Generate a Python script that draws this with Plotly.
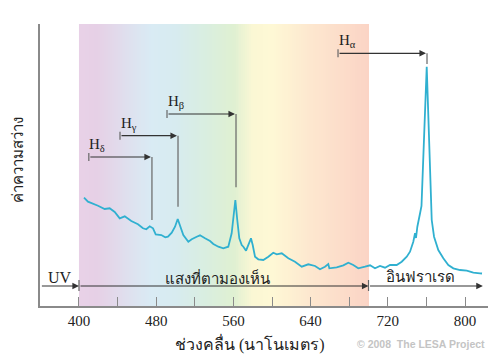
import numpy as np
import plotly.graph_objects as go

# ---------------- data ----------------
wavelength_nm = [405.2, 409.3, 419.7, 426.6, 431.8, 437.0, 442.2, 447.4, 454.2, 461.1,
                 466.3, 469.7, 473.3, 476.7, 479.5, 485.3, 489.4, 492.2, 496.1, 499.5,
                 502.3, 504.7, 508.1, 513.3, 516.8, 522.0, 525.4, 530.6, 535.8, 539.2,
                 544.4, 549.5, 554.7, 558.2, 559.9, 562.0, 564.0, 566.1, 568.6, 570.3,
                 573.1, 575.4, 578.2, 580.0, 582.4, 585.8, 591.0, 596.2, 601.3, 604.9,
                 610.1, 616.9, 623.8, 630.8, 637.6, 644.6, 649.7, 654.9, 658.3, 659.4,
                 667.0, 673.9, 679.1, 684.2, 689.4, 696.4, 701.6, 706.7, 711.9, 717.1,
                 722.3, 729.2, 734.4, 739.6, 743.0, 746.4, 748.2, 749.2, 750.6, 753.4,
                 754.9, 760.3, 763.2, 764.8, 765.5, 767.9, 772.3, 777.5, 782.7, 787.9,
                 794.8, 801.8, 808.6, 815.5, 817.6]
brightness = [108.3, 104.3, 100.3, 97.0, 97.7, 94.0, 87.7, 89.7, 85.0, 81.7,
              77.7, 76.7, 79.7, 77.7, 71.7, 71.0, 68.7, 69.3, 73.3, 79.3,
              87.0, 79.3, 71.0, 64.3, 66.7, 69.3, 70.7, 67.7, 65.0, 62.0,
              59.3, 57.7, 59.3, 72.7, 89.3, 106.0, 86.0, 67.7, 61.0, 59.3,
              55.3, 61.0, 67.7, 61.0, 49.3, 46.7, 46.0, 49.3, 53.3, 51.7,
              52.7, 47.7, 44.3, 39.3, 41.7, 40.0, 36.7, 39.3, 42.0, 37.7,
              38.7, 40.7, 43.3, 41.0, 37.7, 39.3, 40.7, 37.7, 40.0, 38.3,
              41.0, 41.0, 44.3, 49.3, 54.3, 64.3, 72.7, 68.0, 79.3, 92.7,
              100.0, 239.3, 150.0, 106.0, 86.0, 69.3, 56.0, 47.7, 41.0, 37.7,
              36.0, 35.3, 33.3, 32.7, 32.5]

# visible band gradient stops (wavelength, colour)
band_stops_nm = [400, 420, 450, 475, 500, 530, 560, 580, 600, 640, 700]
band_colors = ["#e8d1e7", "#e6d0e6", "#dfe0ee", "#d9ebf4", "#d7ebf0", "#d9eee0",
               "#dff0d2", "#fbf7d4", "#fef8d5", "#fde7cf", "#fbd4c5"]

tick_vals = [400, 440, 480, 520, 560, 600, 640, 680, 720, 760, 800]
tick_text = ["400", "", "480", "", "560", "", "640", "", "720", "", "800"]

# hydrogen lines: label, marker start, observed (arrow target), level, drop-to level
line_labels = ["H<sub>δ</sub>", "H<sub>γ</sub>", "H<sub>β</sub>", "H<sub>α</sub>"]
line_start_nm = [410.2, 442.5, 491.2, 668.4]
line_obs_nm = [475.6, 502.6, 562.7, 760.6]
line_level = [149, 170.3, 192, 252.7]
line_drop = [86, 99.3, 118.7, 242]

region_labels = ["UV", "แสงที่ตามองเห็น", "อินฟราเรด"]
region_edges_nm = [360, 400, 700, 818.5]
region_label_x = [380, 543, 754]

Y_MAX = 282
SERIF = "Liberation Serif, Times New Roman, serif"

fig = go.Figure()

# gradient band
edges = np.linspace(400, 700, 151)
mids = (edges[:-1] + edges[1:]) / 2
cs = [[(s - 400) / 300, c] for s, c in zip(band_stops_nm, band_colors)]
fig.add_trace(go.Heatmap(x=edges, y=[0, Y_MAX], z=[mids], colorscale=cs,
                         zmin=400, zmax=700, showscale=False, hoverinfo="skip"))

# spectrum
fig.add_trace(go.Scatter(x=wavelength_nm, y=brightness, mode="lines",
                         line=dict(color="#30b0d0", width=1.8), hoverinfo="skip",
                         showlegend=False))

shapes = []
annotations = []
LINE_C = "#666666"
for lab, s, o, lev, drop in zip(line_labels, line_start_nm, line_obs_nm, line_level, line_drop):
    shapes.append(dict(type="line", xref="x", yref="y", x0=s, x1=s, y0=lev - 4, y1=lev + 4,
                       line=dict(color=LINE_C, width=1.2)))
    shapes.append(dict(type="line", xref="x", yref="y", x0=o, x1=o, y0=lev, y1=drop,
                       line=dict(color=LINE_C, width=1.2)))
    annotations.append(dict(x=o, y=lev, ax=s, ay=lev, xref="x", yref="y",
                            axref="x", ayref="y", text="", showarrow=True,
                            arrowhead=2, arrowsize=1.1, arrowwidth=1.2,
                            arrowcolor="#333333", standoff=1))
    annotations.append(dict(x=s - 1.5, y=lev + 12, xref="x", yref="y", text=lab,
                            showarrow=False, xanchor="left", yanchor="middle",
                            font=dict(family=SERIF, size=15, color="#222222")))

# region arrows along bottom
ARROW_Y = 20
for i in range(3):
    annotations.append(dict(x=region_edges_nm[i + 1], y=ARROW_Y, ax=region_edges_nm[i], ay=ARROW_Y,
                            xref="x", yref="y", axref="x", ayref="y", text="",
                            showarrow=True, arrowhead=2, arrowsize=1.1, arrowwidth=1.2,
                            arrowcolor="#333333"))
for e in region_edges_nm[1:3]:
    shapes.append(dict(type="line", xref="x", yref="y", x0=e, x1=e, y0=15, y1=26,
                       line=dict(color=LINE_C, width=1.2)))

for lab, xx, sz in zip(region_labels, region_label_x, [16, 15, 15]):
    annotations.append(dict(x=xx, y=29, xref="x", yref="y", text=lab, showarrow=False,
                            xanchor="center", yanchor="middle",
                            font=dict(family=SERIF, size=sz, color="#222222")))

# axis titles (paper coords relative to plot area 448x282)
annotations.append(dict(x=(250 - 40) / 448, y=(306 - 343) / 282, xref="paper", yref="paper",
                        text="ช่วงคลื่น (นาโนเมตร)", showarrow=False, xanchor="center",
                        yanchor="middle", font=dict(family=SERIF, size=16, color="#222222")))
annotations.append(dict(x=(18 - 40) / 448, y=(306 - 160) / 282, xref="paper", yref="paper",
                        text="ค่าความสว่าง", showarrow=False, textangle=-90,
                        xanchor="center", yanchor="middle",
                        font=dict(family=SERIF, size=15, color="#222222")))
annotations.append(dict(x=(487 - 40) / 448, y=(306 - 344) / 282, xref="paper", yref="paper",
                        text="<b>© 2008  The LESA Project</b>", showarrow=False,
                        xanchor="right", yanchor="middle",
                        font=dict(family="Liberation Sans, Arial, sans-serif", size=10.5,
                                  color="#c4c4c4")))

# page body has an 8px default margin, so the figure is sized/offset to compensate
fig.update_layout(
    width=492, height=349,
    margin=dict(l=32, r=12, t=16, b=51),
    paper_bgcolor="white", plot_bgcolor="white",
    showlegend=False,
    shapes=shapes, annotations=annotations,
    xaxis=dict(range=[359.6, 823.8], showgrid=False, zeroline=False,
               showline=True, linecolor="#8a8a8a", linewidth=1.5,
               ticks="inside", ticklen=9, tickwidth=1.2, tickcolor="#8a8a8a",
               tickvals=tick_vals, ticktext=tick_text,
               tickfont=dict(family=SERIF, size=15, color="#222222")),
    yaxis=dict(range=[0, Y_MAX], showgrid=False, zeroline=False,
               showline=True, linecolor="#8a8a8a", linewidth=1.5,
               showticklabels=False, ticks=""),
)

fig.write_html("out.html")
